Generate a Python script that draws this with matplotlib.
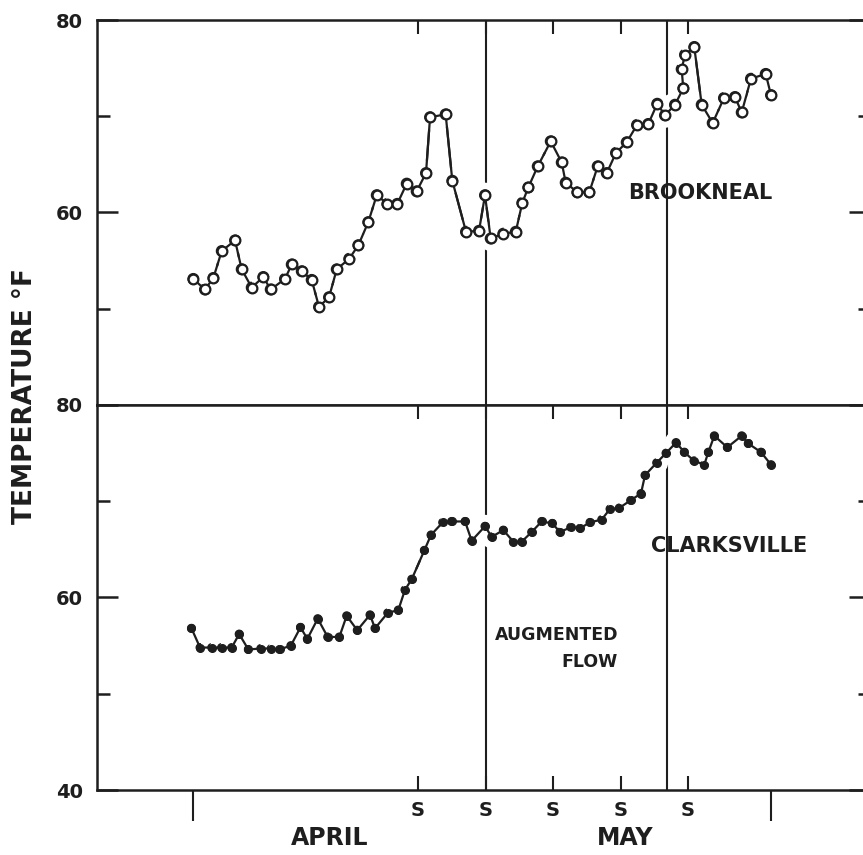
import matplotlib.pyplot as plt
import matplotlib.patheffects as pe
from matplotlib.transforms import blended_transform_factory

# Days counted from April 1 (= day 1)
brookneal_day = [1.03, 2.24, 3.11, 3.98, 5.36, 6.05, 7.09, 8.29, 9.06, 10.54,
                 11.24, 12.28, 13.31, 14.07, 15.11, 15.91, 17.21, 18.15, 19.18, 20.06,
                 21.16, 22.19, 23.17, 24.2, 25.17, 25.59, 27.21, 27.9, 29.32, 30.67,
                 31.29, 31.88, 33.19, 34.48, 35.16, 35.78, 36.76, 38.11, 39.25, 39.66,
                 40.87, 42.11, 42.98, 43.92, 44.88, 45.99, 47.06, 48.23, 49.16, 49.96,
                 51.0, 51.86, 51.69, 52.04, 53.0, 53.77, 54.91, 56.08, 57.22, 57.92,
                 58.88, 60.41, 60.96]
brookneal_temp = [53.1, 52.0, 53.2, 56.0, 57.1, 54.1, 52.2, 53.3, 52.0, 53.1,
                  54.6, 53.9, 53.0, 50.2, 51.2, 54.1, 55.2, 56.6, 59.0, 61.8,
                  60.9, 60.9, 63.0, 62.2, 64.1, 69.9, 70.2, 63.3, 58.0, 58.1,
                  61.8, 57.3, 57.8, 58.0, 61.0, 62.6, 64.8, 67.4, 65.2, 63.1,
                  62.1, 62.1, 64.8, 64.1, 66.2, 67.3, 69.1, 69.2, 71.3, 70.1,
                  71.2, 72.9, 74.9, 76.4, 77.2, 71.2, 69.3, 71.9, 72.0, 70.4,
                  73.9, 74.4, 72.2]

clarksville_day = [0.84, 1.73, 2.94, 3.96, 5.01, 5.79, 6.74, 8.03, 9.11, 9.98,
                   11.15, 12.15, 12.86, 13.94, 14.97, 16.18, 16.94, 18.04, 19.36, 19.88,
                   21.2, 22.3, 22.99, 23.69, 25.0, 25.69, 26.9, 27.82, 29.22, 29.91,
                   31.29, 31.99, 33.19, 34.23, 35.1, 36.13, 37.17, 38.27, 39.07, 40.18,
                   41.15, 42.18, 43.4, 44.26, 45.22, 46.4, 47.47, 47.89, 49.1, 50.07,
                   51.11, 51.97, 52.97, 54.04, 54.46, 55.08, 56.43, 57.92, 58.6, 59.92,
                   60.96]
clarksville_temp = [56.8, 54.8, 54.8, 54.8, 54.8, 56.2, 54.6, 54.7, 54.7, 54.6,
                    55.0, 56.9, 55.7, 57.8, 55.9, 55.9, 58.1, 56.6, 58.2, 56.8,
                    58.4, 58.7, 60.8, 61.9, 64.9, 66.5, 67.8, 67.9, 67.9, 65.9,
                    67.4, 66.3, 67.0, 65.8, 65.8, 66.8, 67.9, 67.7, 66.8, 67.3,
                    67.2, 67.8, 68.1, 69.2, 69.3, 70.1, 70.8, 72.7, 74.0, 75.0,
                    76.1, 75.1, 74.2, 73.8, 75.1, 76.8, 75.6, 76.8, 76.0, 75.1,
                    73.8]

sundays = [24.35, 31.35, 38.35, 45.35, 52.35]
month_ticks = [1, 61]
months = ['APRIL', 'MAY']
month_mid = [15.2, 45.8]
event_days = [31.35, 50.2]

INK = '#1e1e1e'
plt.rcParams['font.family'] = 'DejaVu Sans'
plt.rcParams['font.weight'] = 'bold'

fig = plt.figure(figsize=(8.63, 8.55), dpi=100)
left, right = 97 / 863, 870 / 863
ax_top = fig.add_axes([left, 1 - 405 / 855, right - left, 385 / 855])
ax_bot = fig.add_axes([left, 1 - 790 / 855, right - left, 385 / 855])

halo = [pe.withStroke(linewidth=11, foreground='white')]

for ax in (ax_top, ax_bot):
    ax.set_xlim(-8.96, 71.23)
    ax.set_ylim(40, 80)
    for side in ('left', 'top', 'bottom'):
        ax.spines[side].set_linewidth(1.8)
        ax.spines[side].set_color(INK)
    ax.spines['right'].set_visible(False)
    for d in event_days:
        ax.axvline(d, color=INK, lw=1.5, zorder=1)
    ax.set_yticks([40, 60, 80])
    ax.set_yticks([50, 70], minor=True)
    ax.tick_params(axis='y', which='major', direction='in', length=15, width=1.8,
                   left=True, right=True, color=INK, labelsize=14, pad=10,
                   labelcolor=INK)
    ax.tick_params(axis='y', which='minor', direction='in', length=9, width=1.8,
                   left=True, right=True, color=INK)
    ax.set_xticks(sundays)
    ax.tick_params(axis='x', which='major', direction='in', length=10, width=1.5,
                   top=True, color=INK, labelsize=14, pad=8, labelcolor=INK)

ax_top.set_yticklabels(['', '60', '80'])
ax_top.tick_params(axis='x', bottom=False, labelbottom=False)

ax_bot.set_xticklabels(['S'] * len(sundays))
ax_bot.set_xticks(month_ticks, minor=True)
ax_bot.tick_params(axis='x', which='minor', direction='out', length=22, width=1.5,
                   bottom=True, top=False, color=INK)

ax_top.plot(brookneal_day, brookneal_temp, color=INK, lw=1.6, marker='o', ms=7,
            mfc='white', mec=INK, mew=1.6, zorder=3, path_effects=halo)
ax_top.plot(brookneal_day, brookneal_temp, color=INK, lw=1.6, marker='o', ms=7,
            mfc='white', mec=INK, mew=1.6, zorder=4)
ax_bot.plot(clarksville_day, clarksville_temp, color=INK, lw=1.6, marker='o', ms=5.5,
            mfc=INK, mec=INK, zorder=3, path_effects=halo)
ax_bot.plot(clarksville_day, clarksville_temp, color=INK, lw=1.6, marker='o', ms=5.5,
            mfc=INK, mec=INK, zorder=4)

ax_top.text(53.6, 62.0, 'BROOKNEAL', ha='center', va='center', fontsize=15, color=INK)
ax_bot.text(56.6, 65.4, 'CLARKSVILLE', ha='center', va='center', fontsize=15, color=INK)
ax_bot.text(45.1, 54.7, 'AUGMENTED\nFLOW', ha='right', va='center', fontsize=12.5,
            color=INK, multialignment='right', linespacing=1.6)

trans = blended_transform_factory(ax_bot.transData, fig.transFigure)
for name, mid in zip(months, month_mid):
    ax_bot.text(mid, 1 - 838 / 855, name, transform=trans, ha='center', va='center',
                fontsize=17, color=INK)

fig.text(25 / 863, 1 - 396 / 855, 'TEMPERATURE °F', rotation=90, fontsize=19,
         color=INK, ha='center', va='center')

fig.savefig('out.png', dpi=100, facecolor='white')
